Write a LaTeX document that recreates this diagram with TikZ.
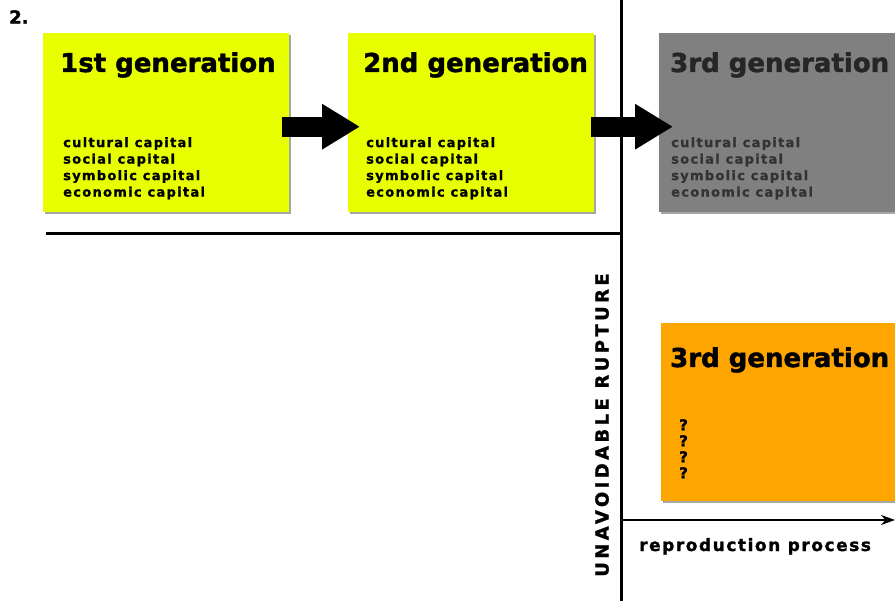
\documentclass[tikz,border=0pt]{standalone}
\usepackage{fontspec}
\setmainfont{DejaVu Sans}[BoldFeatures={FakeBold=1.6}]
\newfontfamily\bodyfont{DejaVu Sans}[LetterSpace=10, BoldFeatures={FakeBold=1.2}]
\newfontfamily\rupturefont{DejaVu Sans}[LetterSpace=19, BoldFeatures={FakeBold=1.4}]
\newfontfamily\processfont{DejaVu Sans}[LetterSpace=9, BoldFeatures={FakeBold=1.4}]
\usetikzlibrary{arrows.meta,positioning,shadows}
\definecolor{genyellow}{HTML}{E8FF00}
\definecolor{gengray}{HTML}{808080}
\definecolor{genorange}{HTML}{FFA500}

\begin{document}
\begin{tikzpicture}[x=1pt, y=-1pt,
    genbox/.style={anchor=north west, minimum width=246pt, minimum height=179pt, inner sep=0pt,
        drop shadow={shadow xshift=2pt, shadow yshift=-2pt, fill=black, opacity=0.35}},
    gentitle/.style={anchor=base west, inner sep=0pt, font=\bfseries\fontsize{26}{30}\selectfont},
    genlist/.style={anchor=north west, inner sep=0pt, align=left, font=\bodyfont\bfseries\fontsize{13}{16.5}\selectfont},
    fatarrow/.style={line width=20pt, -{Triangle[length=38pt, width=43pt]}},
    divider/.style={line width=3pt}]
    \useasboundingbox (0,0) rectangle (895,601);
    \clip (0,0) rectangle (895,601);

    % figure number
    \node[anchor=north west, inner sep=0pt, font=\bfseries\fontsize{18}{20}\selectfont] (fignum) at (9,10) {2.};

    % generation boxes
    \node[genbox, fill=genyellow] (gen1) at (43,33) {};
    \node[gentitle] (gen1title) at (60,72) {1st generation};
    \node[genlist] (gen1list) at (63,137) {cultural capital\\social capital\\symbolic capital\\economic capital};

    \node[genbox, fill=genyellow] (gen2) at (348,33) {};
    \node[gentitle] (gen2title) at (363,72) {2nd generation};
    \node[genlist] (gen2list) at (366,137) {cultural capital\\social capital\\symbolic capital\\economic capital};

    \node[genbox, fill=gengray, minimum width=260pt] (gen3) at (659,33) {};
    \node[gentitle, text=black!85] (gen3title) at (670,72) {3rd generation};
    \node[genlist, text=black!80] (gen3list) at (671,137) {cultural capital\\social capital\\symbolic capital\\economic capital};

    % the other 3rd generation
    \node[genbox, fill=genorange, minimum width=260pt, minimum height=178pt] (gen4) at (661,323) {};
    \node[gentitle] (gen4title) at (670,367) {3rd generation};
    \node[genlist, font=\bfseries\fontsize{15}{16}\selectfont] (gen4list) at (679,419) {?\\?\\?\\?};

    % transmission arrows
    \draw[fatarrow] ([xshift=-7pt, yshift=-4pt]gen1.east) -- ([xshift=12pt, yshift=-4pt]gen2.west);
    \draw[fatarrow] ([xshift=-3pt, yshift=-4pt]gen2.east) -- ([xshift=14pt, yshift=-4pt]gen3.west);

    % rupture line and separator
    \coordinate (rtop) at (621,0);
    \coordinate (rbot) at (621,601);
    \coordinate (sepleft) at (46,234);
    \draw[divider] (rtop) -- (rbot);
    \draw[divider] (sepleft) -- (sepleft -| rtop);
    \node[rotate=90, inner sep=0pt, font=\rupturefont\bfseries\fontsize{18}{20}\selectfont] (rupture) at (602,425) {UNAVOIDABLE RUPTURE};

    % reproduction axis
    \coordinate (axisstart) at (621,520);
    \coordinate (axisend) at (895,520);
    \draw[line width=2pt, -{Stealth[length=14pt, width=10pt]}] (axisstart) -- (axisend);
    \node[anchor=base west, inner sep=0pt, font=\processfont\bfseries\fontsize{17}{20}\selectfont] (process) at (639,551) {reproduction process};
\end{tikzpicture}
\end{document}
